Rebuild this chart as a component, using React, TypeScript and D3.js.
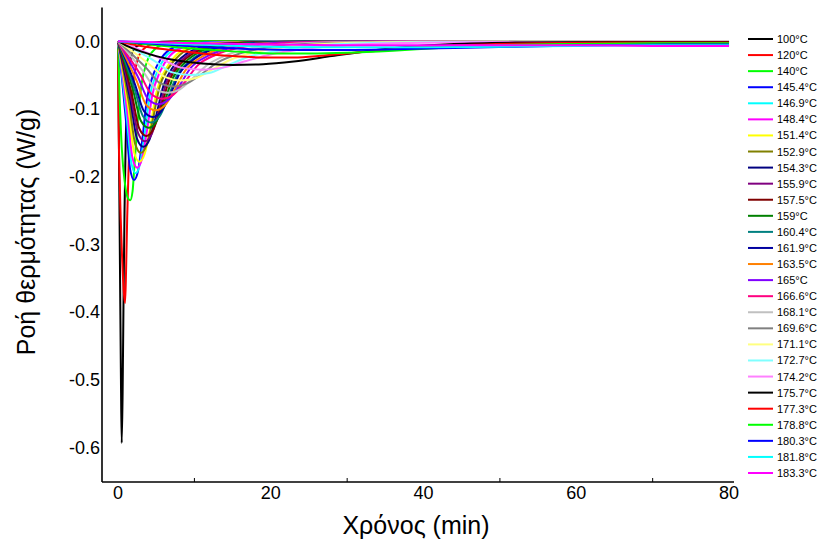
import React from "react";
import * as d3 from "d3";

type P = [number, number];

const temps = ["100", "120", "140", "145.4", "146.9", "148.4", "151.4", "152.9", "154.3", "155.9", "157.5", "159", "160.4", "161.9", "163.5", "165", "166.6", "168.1", "169.6", "171.1", "172.7", "174.2", "175.7", "177.3", "178.8", "180.3", "181.8", "183.3"];

const colors = ["#000000", "#ff0000", "#00ff00", "#0000ff", "#00ffff", "#ff00ff", "#ffff00", "#808000", "#000080", "#800080", "#800000", "#008000", "#008080", "#0000a0", "#ff8000", "#8000ff", "#ff0080", "#c0c0c0", "#808080", "#ffff80", "#80ffff", "#ff80ff", "#000000", "#ff0000", "#00ff00", "#0000ff", "#00ffff", "#ff00ff"];

const s100: P[] = [[0, 0], [0.12, -0.16], [0.25, -0.33], [0.38, -0.5], [0.48, -0.594], [0.6, -0.52], [0.72, -0.38], [0.85, -0.25], [1.0, -0.15], [1.25, -0.07], [1.6, -0.03], [2.2, -0.01], [3.5, -0.003], [8, 0], [20, 0]];
const s120: P[] = [[0, 0], [0.08, -0.12], [0.25, -0.22], [0.5, -0.31], [0.75, -0.37], [0.92, -0.387], [1.05, -0.34], [1.2, -0.26], [1.4, -0.18], [1.65, -0.11], [2.0, -0.06], [2.5, -0.03], [3.3, -0.012], [5, -0.003], [10, 0], [30, 0]];
const s140: P[] = [[0, 0], [0.2, -0.08], [0.5, -0.16], [0.9, -0.21], [1.3, -0.232], [1.6, -0.235], [1.9, -0.222], [2.2, -0.175], [2.6, -0.115], [3.1, -0.062], [3.8, -0.03], [4.8, -0.012], [6.5, -0.003], [10, 0], [35, 0]];
const s145_4: P[] = [[0, 0], [0.53, -0.057], [1.05, -0.119], [1.58, -0.189], [2.1, -0.205], [2.63, -0.191], [3.15, -0.148], [3.78, -0.086], [4.62, -0.049], [5.67, -0.025], [7.14, -0.01], [9.45, -0.0035], [13.65, -0.001], [40, 0]];
const s146_9: P[] = [[0, 0], [0.58, -0.055], [1.15, -0.113], [1.73, -0.179], [2.3, -0.195], [2.88, -0.181], [3.45, -0.14], [4.14, -0.082], [5.06, -0.047], [6.21, -0.023], [7.82, -0.01], [10.35, -0.003], [15, -0.001], [40, 0]];
const s148_4: P[] = [[0, 0], [0.63, -0.052], [1.25, -0.108], [1.88, -0.172], [2.5, -0.187], [3.13, -0.174], [3.75, -0.135], [4.5, -0.079], [5.5, -0.045], [6.75, -0.022], [8.5, -0.009], [11.25, -0.003], [16, -0.001], [40, 0]];
const s151_4: P[] = [[0, 0], [0.7, -0.05], [1.4, -0.103], [2.1, -0.164], [2.8, -0.178], [3.5, -0.166], [4.2, -0.128], [5.04, -0.075], [6.16, -0.043], [7.56, -0.021], [9.52, -0.009], [12.6, -0.003], [18, -0.001], [45, 0]];
const s152_9: P[] = [[0, 0], [0.75, -0.046], [1.5, -0.096], [2.25, -0.152], [3, -0.165], [3.75, -0.153], [4.5, -0.119], [5.4, -0.069], [6.6, -0.04], [8.1, -0.02], [10.2, -0.008], [13.5, -0.003], [19.5, -0.001], [45, 0]];
const s154_3: P[] = [[0, 0], [0.83, -0.044], [1.65, -0.09], [2.48, -0.144], [3.3, -0.156], [4.13, -0.145], [4.95, -0.112], [5.94, -0.066], [7.26, -0.037], [8.91, -0.019], [11.2, -0.008], [14.9, -0.003], [21.5, -0.001], [50, 0]];
const s155_9: P[] = [[0, 0], [0.88, -0.041], [1.75, -0.086], [2.63, -0.136], [3.5, -0.148], [4.38, -0.138], [5.25, -0.107], [6.3, -0.062], [7.7, -0.036], [9.45, -0.018], [11.9, -0.007], [15.75, -0.0025], [22.75, -0.0006], [50, 0]];
const s157_5: P[] = [[0, 0], [0.93, -0.039], [1.85, -0.081], [2.78, -0.129], [3.7, -0.14], [4.63, -0.13], [5.55, -0.101], [6.66, -0.059], [8.14, -0.034], [10, -0.017], [12.6, -0.007], [16.65, -0.0024], [24, -0.0006], [50, 0]];
const s159: P[] = [[0, 0], [1, -0.036], [2, -0.074], [3, -0.118], [4, -0.128], [5, -0.119], [6, -0.092], [7.2, -0.054], [8.8, -0.031], [10.8, -0.015], [13.6, -0.0064], [18, -0.0022], [26, -0.0005], [55, 0]];
const s160_4: P[] = [[0, 0], [1.08, -0.034], [2.15, -0.07], [3.23, -0.11], [4.3, -0.12], [5.38, -0.112], [6.45, -0.086], [7.74, -0.05], [9.46, -0.029], [11.6, -0.014], [14.6, -0.006], [19.4, -0.002], [28, -0.0005], [55, 0]];
const s161_9: P[] = [[0, 0], [1.13, -0.031], [2.25, -0.065], [3.38, -0.103], [4.5, -0.112], [5.63, -0.104], [6.75, -0.081], [8.1, -0.047], [9.9, -0.027], [12.15, -0.013], [15.3, -0.0056], [20.25, -0.0019], [29, -0.0004], [60, 0]];
const s163_5: P[] = [[0, 0], [1.23, -0.029], [2.45, -0.059], [3.68, -0.094], [4.9, -0.102], [6.13, -0.095], [7.35, -0.073], [8.82, -0.043], [10.8, -0.024], [13.2, -0.012], [16.7, -0.005], [22, -0.0017], [32, -0.0004], [60, 0]];
const s165: P[] = [[0, 0], [1.33, -0.026], [2.65, -0.054], [3.98, -0.086], [5.3, -0.093], [6.63, -0.086], [7.95, -0.067], [9.54, -0.039], [11.7, -0.022], [14.3, -0.011], [18, -0.0047], [23.9, -0.0016], [34, -0.0004], [65, 0]];
const s166_6: P[] = [[0, 0], [1.45, -0.024], [2.9, -0.049], [4.35, -0.078], [5.8, -0.085], [7.25, -0.079], [8.7, -0.061], [10.4, -0.036], [12.8, -0.02], [15.7, -0.01], [19.7, -0.0043], [26.1, -0.0014], [38, -0.0003], [70, 0]];
const s168_1: P[] = [[0, 0], [1.6, -0.021], [3.25, -0.044], [4.9, -0.07], [6.5, -0.076], [8.1, -0.071], [9.75, -0.055], [11.7, -0.035], [14.3, -0.02], [17.6, -0.01], [22, -0.0045], [29, -0.0015], [42, -0.0005], [80, -0.0003]];
const s169_6: P[] = [[0, 0], [1.8, -0.019], [3.65, -0.039], [5.5, -0.062], [7.3, -0.067], [9.1, -0.062], [11, -0.048], [13.1, -0.031], [16, -0.018], [19.7, -0.009], [24.8, -0.004], [33, -0.0015], [47, -0.0005], [80, -0.0005]];
const s171_1: P[] = [[0, 0], [2, -0.016], [4.1, -0.034], [6.2, -0.053], [8.2, -0.058], [10.3, -0.054], [12.3, -0.042], [14.8, -0.027], [18, -0.016], [22, -0.008], [28, -0.0035], [37, -0.0013], [53, -0.0005], [80, -0.0005]];
const s172_7: P[] = [[0, 0], [2.4, -0.014], [4.75, -0.029], [7.1, -0.046], [9.5, -0.05], [11.9, -0.047], [14.3, -0.036], [17.1, -0.023], [21, -0.014], [25.7, -0.007], [32, -0.003], [43, -0.0012], [60, -0.0006], [80, -0.0006]];
const s174_2: P[] = [[0, 0], [2.75, -0.012], [5.5, -0.025], [8.25, -0.039], [11, -0.042], [13.75, -0.039], [16.5, -0.03], [19.8, -0.02], [24, -0.012], [29.7, -0.006], [37, -0.0028], [50, -0.0012], [65, -0.0008], [80, -0.0008]];
const s175_7: P[] = [[0, 0], [1, -0.006], [3, -0.015], [5, -0.022], [8, -0.029], [11, -0.033], [15, -0.035], [19, -0.034], [23, -0.03], [28, -0.022], [33, -0.014], [38, -0.008], [44, -0.004], [52, -0.002], [65, -0.001], [80, -0.001]];
const s177_3: P[] = [[0, 0], [3, -0.007], [7, -0.013], [11, -0.018], [15, -0.022], [19, -0.024], [23, -0.024], [27, -0.021], [32, -0.016], [38, -0.01], [45, -0.006], [55, -0.003], [65, -0.002], [80, -0.002]];
const s178_8: P[] = [[0, 0], [5, -0.006], [10, -0.011], [15, -0.015], [20, -0.018], [25, -0.018], [30, -0.017], [36, -0.014], [42, -0.01], [50, -0.006], [60, -0.004], [70, -0.003], [80, -0.003]];
const s180_3: P[] = [[0, 0], [6, -0.005], [12, -0.009], [18, -0.012], [24, -0.013], [30, -0.013], [36, -0.012], [44, -0.01], [52, -0.008], [62, -0.006], [72, -0.005], [80, -0.005]];
const s181_8: P[] = [[0, 0], [8, -0.004], [16, -0.007], [24, -0.009], [32, -0.009], [40, -0.009], [50, -0.008], [60, -0.007], [70, -0.006], [80, -0.006]];
const s183_3: P[] = [[0, 0], [10, -0.003], [20, -0.005], [30, -0.006], [40, -0.006], [50, -0.006], [60, -0.006], [70, -0.007], [80, -0.007]];

const seriesData: P[][] = [s100, s120, s140, s145_4, s146_9, s148_4, s151_4, s152_9, s154_3, s155_9, s157_5, s159, s160_4, s161_9, s163_5, s165, s166_6, s168_1, s169_6, s171_1, s172_7, s174_2, s175_7, s177_3, s178_8, s180_3, s181_8, s183_3];

const xTicks = [0, 20, 40, 60, 80];
const xMinorTicks = [10, 30, 50, 70];
const yTicks = [0, -0.1, -0.2, -0.3, -0.4, -0.5, -0.6];

const W = 820;
const H = 544;
const FONT = "'Liberation Sans', Arial, sans-serif";

export default function App() {
  const x = d3.scaleLinear().domain([-2.1, 80.65]).range([102, 734]);
  const y = d3.scaleLinear().domain([-0.65, 0.05]).range([481, 7.4]);
  const line = d3
    .line<P>()
    .x((d) => x(d[0]))
    .y((d) => y(d[1]))
    .curve(d3.curveMonotoneX);

  const legendY = d3.scaleLinear().domain([0, temps.length - 1]).range([39, 473]);

  return (
    <svg
      width={W}
      height={H}
      style={{ position: "absolute", left: 0, top: 0, background: "#fff" }}
      fontFamily={FONT}
    >
      <rect x={0} y={0} width={W} height={H} fill="#fff" />
      <g>
        {seriesData.map((s, i) => (
          <path key={i} d={line(s) || ""} fill="none" stroke={colors[i]} strokeWidth={2} strokeLinejoin="round" />
        ))}
      </g>
      <line x1={x.range()[0]} x2={x.range()[0]} y1={y.range()[1]} y2={y.range()[0] + 1} stroke="#000" strokeWidth={1.6} />
      <line x1={x.range()[0]} x2={x.range()[1]} y1={y.range()[0] + 1} y2={y.range()[0] + 1} stroke="#000" strokeWidth={1.6} />
      {xMinorTicks.map((t) => (
        <line key={t} x1={x(t)} x2={x(t)} y1={y.range()[0] + 1} y2={y.range()[0] - 3} stroke="#000" strokeWidth={1} />
      ))}
      {xTicks.map((t) => (
        <text key={t} x={x(t)} y={499} fontSize={18} textAnchor="middle" fill="#000">
          {t}
        </text>
      ))}
      {yTicks.map((t) => (
        <text key={t} x={100} y={y(t) + 6.5} fontSize={18} textAnchor="end" fill="#000">
          {d3.format(".1f")(t).replace("−", "-")}
        </text>
      ))}
      <text x={416} y={534} fontSize={25} textAnchor="middle" fill="#000">
        Χρόνος (min)
      </text>
      <text transform={`translate(35,232) rotate(-90)`} fontSize={25} textAnchor="middle" fill="#000">
        Ροή θερμότητας (W/g)
      </text>
      <g>
        {temps.map((t, i) => (
          <g key={t} transform={`translate(0,${legendY(i)})`}>
            <line x1={748} x2={773} y1={0} y2={0} stroke={colors[i]} strokeWidth={2} />
            <text x={777} y={4} fontSize={11} fill="#000">
              {t}°C
            </text>
          </g>
        ))}
      </g>
    </svg>
  );
}
